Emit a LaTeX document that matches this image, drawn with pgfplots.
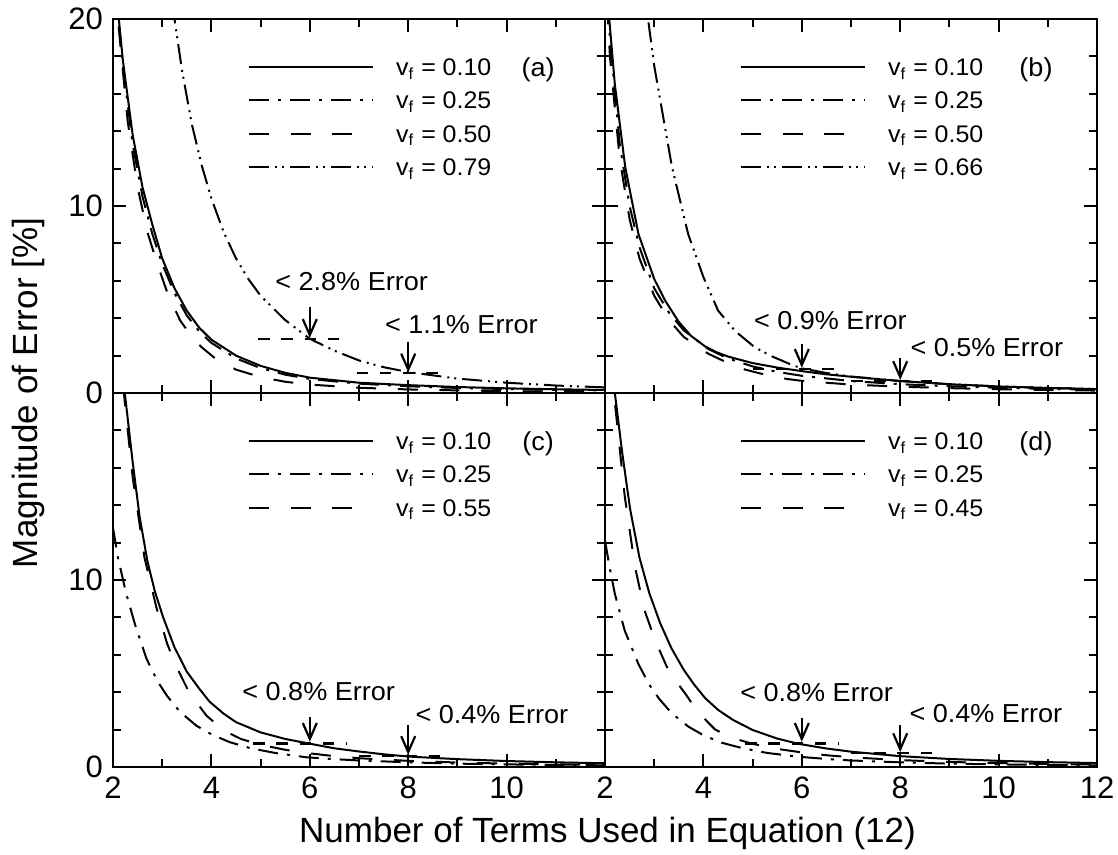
\documentclass[border=0pt]{standalone}
\usepackage{fontspec}
\setmainfont{Liberation Sans}
\newfontfamily\annfont[FakeStretch=1.04]{Liberation Sans}
\usepackage{pgfplots}
\pgfplotsset{compat=1.18}
\usetikzlibrary{arrows.meta}
\tikzset{annot/.style={font=\annfont\fontsize{13}{15}\selectfont, inner sep=0pt}}
\pgfplotsset{
  panel/.style={
    scale only axis, width=246pt, height=187pt,
    xmin=2, xmax=12, ymin=0, ymax=20,
    xtick={2,4,6,8,10,12}, minor xtick={3,5,7,9,11},
    ytick={0,10,20}, minor ytick={2,4,6,8,12,14,16,18},
    tick align=inside, tick pos=both,
    major tick length=6.5pt, minor tick length=4pt,
    tick style={black, line width=1pt},
    axis line style={line width=1.2pt},
    /pgf/number format/assume math mode=true,
    tick label style={font=\fontsize{15.5}{18}\selectfont},
    xticklabel style={yshift=-1.5pt},
    yticklabel style={xshift=-1.5pt},
    legend style={draw=none, fill=none, at={(0.274,0.8957)}, anchor=north west,
      inner sep=0pt, row sep=8.07pt, font=\annfont\fontsize{12}{14}\selectfont,
      nodes={inner sep=0pt, text height=8.6pt, text depth=0pt}},
    legend cell align=left,
    legend image code/.code={\draw[##1] (0pt,0pt) -- (62pt,0pt); \path (73pt,0pt);},
  },
  sA/.style={black, line width=1pt},
  sB/.style={black, line width=1pt, dash pattern=on 10pt off 4.5pt on 1.5pt off 4.5pt},
  sC/.style={black, line width=1pt, dash pattern=on 10pt off 10.8pt},
  sD/.style={black, line width=1pt, dash pattern=on 10pt off 3pt on 1pt off 2.5pt on 1pt off 3pt},
  anno/.style={black, line width=1.1pt, dash pattern=on 5.8pt off 5.8pt, forget plot},
  arr/.style={black, line width=1.1pt, -{Straight Barb[length=8pt,width=7pt]}, forget plot},
}
\begin{document}
\begin{tikzpicture}
\path[use as bounding box] (-56.5pt,9.5pt) rectangle (502.5pt,-418pt);
% ---------------- (a)
\begin{axis}[panel, name=tl, at={(0pt,0pt)}, anchor=north west, xticklabels={}]
\addplot[sA] coordinates {(2.0,24) (2.1,20.5) (2.2,17.8) (2.4,13.8) (2.6,11.0) (2.8,9.0) (3.0,7.2) (3.25,5.6) (3.5,4.4) (3.75,3.5) (4.0,2.85) (4.5,2.0) (5.0,1.45) (5.5,1.08) (6.0,0.82) (7.0,0.55) (8.0,0.42) (9.0,0.32) (10.0,0.25) (11.0,0.2) (12.0,0.16)};
\addlegendentry{v\textsubscript{f} = 0.10}
\addplot[sB] coordinates {(2.0,24) (2.1,20.3) (2.2,17.5) (2.4,13.3) (2.6,10.5) (2.8,8.5) (3.0,6.9) (3.25,5.35) (3.5,4.15) (3.75,3.3) (4.0,2.68) (4.5,1.85) (5.0,1.33) (5.5,0.98) (6.0,0.75) (7.0,0.5) (8.0,0.36) (9.0,0.27) (10.0,0.21) (11.0,0.17) (12.0,0.14)};
\addlegendentry{v\textsubscript{f} = 0.25}
\addplot[sC] coordinates {(2.0,24) (2.1,20) (2.3,14.5) (2.5,11) (2.7,8.6) (2.9,6.9) (3.1,5.4) (3.36,3.9) (3.6,3.0) (3.8,2.45) (4.1,1.8) (4.5,1.25) (5.0,0.85) (5.5,0.6) (6.0,0.45) (7.0,0.28) (8.0,0.19) (9.0,0.14) (10.0,0.1) (11.0,0.08) (12.0,0.06)};
\addlegendentry{v\textsubscript{f} = 0.50}
\addplot[sD] coordinates {(3.1,23) (3.2,20.9) (3.4,17.3) (3.6,14.4) (3.8,12.2) (4.0,10.4) (4.25,8.6) (4.5,7.2) (4.75,6.1) (5.0,5.2) (5.5,3.9) (6.0,2.9) (6.5,2.26) (7.0,1.74) (7.5,1.38) (8.0,1.12) (9.0,0.77) (10.0,0.55) (11.0,0.4) (12.0,0.3)};
\addlegendentry{v\textsubscript{f} = 0.79}
\addplot[anno] coordinates {(4.95,2.88) (6.8,2.88)};
\addplot[arr] coordinates {(6,4.6) (6,2.95)};
\addplot[anno] coordinates {(6.95,1.05) (8.8,1.05)};
\addplot[arr] coordinates {(8,2.75) (8,1.1)};
\node[annot] at (axis cs:6.85,5.95) {< 2.8\% Error};
\node[annot] at (axis cs:9.08,3.68) {< 1.1\% Error};
\node[annot] at (axis cs:10.64,17.27) {(a)};
\end{axis}
% ---------------- (b)
\begin{axis}[panel, name=tr, at={(246pt,0pt)}, anchor=north west, xticklabels={}, yticklabels={}]
\addplot[sA] coordinates {(2.0,23) (2.07,20.5) (2.2,16.5) (2.41,12.1) (2.68,8.5) (3.0,6.1) (3.22,4.95) (3.5,3.8) (3.75,3.05) (4.03,2.5) (4.25,2.2) (4.5,1.95) (5.0,1.6) (5.5,1.36) (6.0,1.17) (6.5,1.0) (7.0,0.87) (8.0,0.64) (9.0,0.47) (10.0,0.35) (11.0,0.27) (12.0,0.21)};
\addlegendentry{v\textsubscript{f} = 0.10}
\addplot[sB] coordinates {(2.0,23) (2.1,19) (2.3,13.3) (2.5,10.0) (2.7,7.8) (3.0,5.6) (3.3,4.3) (3.6,3.35) (4.1,2.35) (4.5,1.85) (5.0,1.42) (5.5,1.13) (6.0,0.92) (7.0,0.64) (8.0,0.47) (9.0,0.36) (10.0,0.28) (11.0,0.22) (12.0,0.18)};
\addlegendentry{v\textsubscript{f} = 0.25}
\addplot[sC] coordinates {(2.0,23) (2.1,18) (2.3,12.5) (2.5,9.3) (2.7,7.2) (3.0,5.2) (3.3,3.9) (3.6,3.0) (4.1,2.1) (4.5,1.6) (4.85,1.25) (5.3,0.95) (5.7,0.75) (6.0,0.65) (7.0,0.45) (8.0,0.34) (9.0,0.26) (10.0,0.2) (11.0,0.16) (12.0,0.13)};
\addlegendentry{v\textsubscript{f} = 0.50}
\addplot[sD] coordinates {(2.8,22) (2.85,20.5) (3.0,17.5) (3.36,12.1) (3.69,8.5) (4.0,6.2) (4.3,4.4) (4.65,3.3) (5.05,2.43) (5.4,1.95) (5.8,1.5) (6.0,1.32) (6.5,1.07) (7.0,0.88) (8.0,0.64) (9.0,0.47) (10.0,0.35) (11.0,0.27) (12.0,0.21)};
\addlegendentry{v\textsubscript{f} = 0.66}
\addplot[anno] coordinates {(5.0,1.27) (6.85,1.27)};
\addplot[arr] coordinates {(6,2.6) (6,1.35)};
\addplot[anno] coordinates {(7.0,0.64) (8.8,0.64)};
\addplot[arr] coordinates {(8,1.86) (8,0.7)};
\node[annot] at (axis cs:6.58,3.9) {< 0.9\% Error};
\node[annot] at (axis cs:9.76,2.43) {< 0.5\% Error};
\node[annot] at (axis cs:10.76,17.27) {(b)};
\end{axis}
% ---------------- (c)
\begin{axis}[panel, name=bl, at={(0pt,-187pt)}, anchor=north west, xticklabels={2,4,6,8,10,{}}, yticklabels={0,10,{}}]
\addplot[sA] coordinates {(2.0,27) (2.1,24) (2.24,20) (2.4,16.3) (2.54,13.4) (2.7,11.0) (2.85,9.4) (3.02,8.0) (3.25,6.4) (3.5,5.1) (3.75,4.2) (3.96,3.5) (4.25,2.85) (4.5,2.4) (5.0,1.85) (5.5,1.5) (5.93,1.28) (6.5,1.0) (7.0,0.83) (7.5,0.68) (8.0,0.56) (9.0,0.42) (10.0,0.32) (11.0,0.25) (12.0,0.2)};
\addlegendentry{v\textsubscript{f} = 0.10}
\addplot[sB] coordinates {(2.0,12.8) (2.1,11.2) (2.27,9.26) (2.45,7.6) (2.68,5.8) (2.9,4.6) (3.1,3.8) (3.36,2.95) (3.7,2.2) (4.0,1.75) (4.37,1.33) (4.8,1.0) (5.3,0.75) (5.93,0.52) (6.5,0.42) (7.0,0.35) (8.0,0.25) (9.0,0.18) (10.0,0.14) (11.0,0.11) (12.0,0.09)};
\addlegendentry{v\textsubscript{f} = 0.25}
\addplot[sC] coordinates {(2.0,27) (2.1,23.5) (2.24,19.5) (2.4,15.5) (2.64,11.2) (2.88,8.55) (3.1,6.6) (3.3,5.3) (3.56,3.93) (3.9,2.75) (4.24,1.97) (4.6,1.5) (4.98,1.2) (5.5,0.92) (5.93,0.75) (6.5,0.58) (7.0,0.47) (8.0,0.33) (9.0,0.24) (10.0,0.18) (11.0,0.14) (12.0,0.11)};
\addlegendentry{v\textsubscript{f} = 0.55}
\addplot[anno] coordinates {(4.85,1.26) (6.75,1.26)};
\addplot[arr] coordinates {(6,2.65) (6,1.35)};
\addplot[anno] coordinates {(7.0,0.6) (8.8,0.6)};
\addplot[arr] coordinates {(8,2.24) (8,0.65)};
\node[annot] at (axis cs:6.18,4.05) {< 0.8\% Error};
\node[annot] at (axis cs:9.7,2.8) {< 0.4\% Error};
\node[annot] at (axis cs:10.64,17.27) {(c)};
\end{axis}
% ---------------- (d)
\begin{axis}[panel, name=br, at={(246pt,-187pt)}, anchor=north west, yticklabels={}]
\addplot[sA] coordinates {(2.0,25) (2.1,22.4) (2.2,20) (2.35,16.8) (2.51,13.8) (2.7,11.2) (2.9,9.3) (3.12,7.7) (3.35,6.35) (3.6,5.2) (3.8,4.45) (4.03,3.7) (4.3,3.05) (4.6,2.52) (5.0,1.98) (5.5,1.52) (5.93,1.24) (6.5,0.99) (7.0,0.82) (8.0,0.58) (9.0,0.43) (10.0,0.33) (11.0,0.26) (12.0,0.21)};
\addlegendentry{v\textsubscript{f} = 0.10}
\addplot[sB] coordinates {(2.0,12.1) (2.1,10.6) (2.2,9.26) (2.4,7.3) (2.68,5.5) (2.9,4.4) (3.1,3.65) (3.36,2.86) (3.7,2.15) (4.0,1.7) (4.37,1.3) (4.8,1.0) (5.3,0.75) (5.93,0.55) (6.5,0.43) (7.0,0.35) (8.0,0.25) (9.0,0.18) (10.0,0.14) (11.0,0.11) (12.0,0.09)};
\addlegendentry{v\textsubscript{f} = 0.25}
\addplot[sC] coordinates {(2.0,26) (2.1,22.5) (2.2,19.5) (2.4,14.5) (2.61,10.7) (2.8,8.4) (3.02,6.77) (3.3,5.1) (3.63,3.93) (3.9,2.9) (4.24,2.0) (4.6,1.55) (4.98,1.25) (5.5,0.97) (6.0,0.78) (6.5,0.63) (7.0,0.52) (8.0,0.37) (9.0,0.27) (10.0,0.21) (11.0,0.16) (12.0,0.13)};
\addlegendentry{v\textsubscript{f} = 0.45}
\addplot[anno] coordinates {(4.85,1.26) (6.75,1.26)};
\addplot[arr] coordinates {(6,2.6) (6,1.35)};
\addplot[anno] coordinates {(7.0,0.73) (8.8,0.73)};
\addplot[arr] coordinates {(8,2.24) (8,0.8)};
\node[annot] at (axis cs:6.3,4.0) {< 0.8\% Error};
\node[annot] at (axis cs:9.74,2.86) {< 0.4\% Error};
\node[annot] at (axis cs:10.76,17.27) {(d)};
\end{axis}
\node[rotate=90, anchor=base, font=\fontsize{17.5}{20}\selectfont] at ([xshift=-38pt]tl.south west) {Magnitude of Error [\%]};
\node[anchor=base, font=\fontsize{17.5}{20}\selectfont] at ([xshift=1.25pt,yshift=-37.5pt]bl.south east) {Number of Terms Used in Equation (12)};
\end{tikzpicture}
\end{document}
